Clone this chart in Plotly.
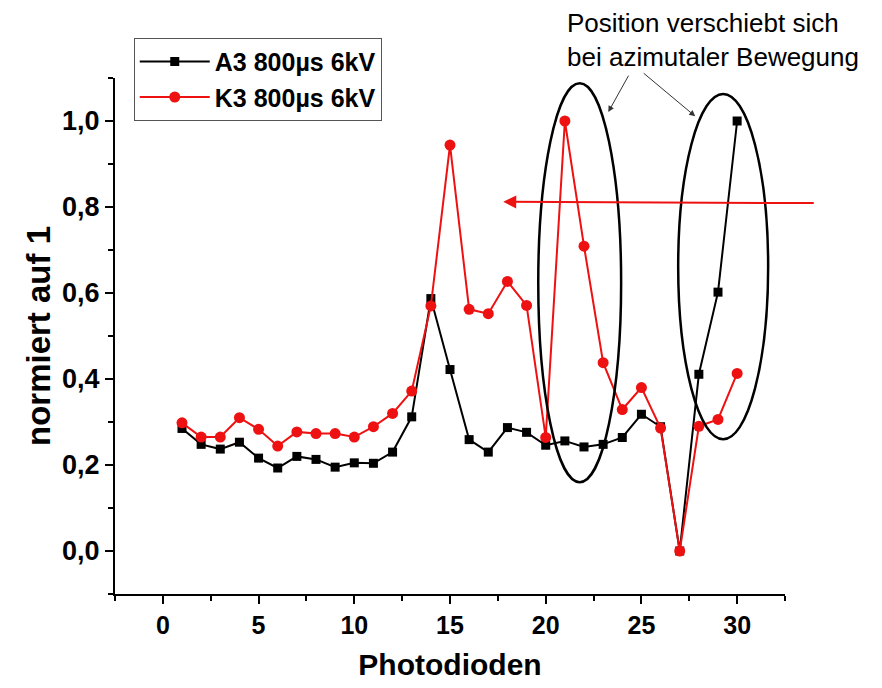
import plotly.graph_objects as go

# Photodiode index and normalised signal of the two measurements
photodiode = list(range(1, 31))
a3_values = [0.285, 0.248, 0.237, 0.253, 0.216, 0.193, 0.220, 0.213, 0.195, 0.205,
             0.204, 0.230, 0.312, 0.587, 0.422, 0.259, 0.230, 0.287, 0.276, 0.246,
             0.256, 0.242, 0.248, 0.264, 0.318, 0.289, 0.0, 0.411, 0.602, 1.0]
k3_values = [0.298, 0.265, 0.265, 0.310, 0.283, 0.244, 0.277, 0.273, 0.273, 0.265,
             0.289, 0.320, 0.372, 0.570, 0.944, 0.562, 0.552, 0.627, 0.571, 0.264,
             1.0, 0.709, 0.438, 0.329, 0.380, 0.286, 0.0, 0.290, 0.306, 0.413]
series_names = ["A3 800\u00b5s 6kV", "K3 800\u00b5s 6kV"]
x_ticks = [0, 5, 10, 15, 20, 25, 30]
y_ticks = [0.0, 0.2, 0.4, 0.6, 0.8, 1.0]

FONT = "Liberation Sans, Arial, sans-serif"

fig = go.Figure()
fig.add_trace(go.Scatter(
    x=photodiode, y=a3_values, name=series_names[0], mode="lines+markers",
    line=dict(color="black", width=2),
    marker=dict(symbol="square", size=9, color="black"),
    cliponaxis=False,
))
fig.add_trace(go.Scatter(
    x=photodiode, y=k3_values, name=series_names[1], mode="lines+markers",
    line=dict(color="#ee1111", width=2),
    marker=dict(symbol="circle", size=11, color="#ee1111"),
    cliponaxis=False,
))

# Ellipses marking the shifting peak positions
fig.add_shape(type="circle", xref="x", yref="y", x0=19.61, x1=23.94, y0=0.160, y1=1.088,
              line=dict(color="black", width=2.5))
fig.add_shape(type="circle", xref="x", yref="y", x0=26.92, x1=31.62, y0=0.26, y1=1.063,
              line=dict(color="black", width=2.5))

# Long red arrow pointing left
fig.add_annotation(x=17.78, y=0.812, ax=34.08, ay=0.809, xref="x", yref="y",
                   axref="x", ayref="y", text="", showarrow=True,
                   arrowhead=2, arrowsize=1.3, arrowwidth=2, arrowcolor="#ee1111",
                   standoff=0, startstandoff=0)

# Explanatory note with pointer arrows
fig.add_annotation(x=0.672, y=1.0736, xref="paper", yref="paper", xanchor="left", yanchor="middle",
                   text="Position verschiebt sich<br>bei azimutaler Bewegung",
                   showarrow=False, align="left",
                   font=dict(family=FONT, size=26, color="black"))
fig.add_annotation(x=23.27, y=1.021, ax=24.37, ay=1.109, xref="x", yref="y",
                   axref="x", ayref="y", text="", showarrow=True,
                   arrowhead=2, arrowsize=1.2, arrowwidth=1, arrowcolor="#333333",
                   standoff=0, startstandoff=0)
fig.add_annotation(x=27.81, y=1.011, ax=25.04, ay=1.114, xref="x", yref="y",
                   axref="x", ayref="y", text="", showarrow=True,
                   arrowhead=2, arrowsize=1.2, arrowwidth=1, arrowcolor="#333333",
                   standoff=0, startstandoff=0)

fig.update_layout(
    width=882, height=688,
    margin=dict(l=115, r=97, t=78, b=94),
    paper_bgcolor="white", plot_bgcolor="white",
    separators=",.",
    font=dict(family=FONT, color="black"),
    showlegend=True,
    legend=dict(
        x=0.028, y=1.078, xanchor="left", yanchor="top",
        bgcolor="white", bordercolor="#555555", borderwidth=1,
        font=dict(family=FONT, size=25, color="black", weight="bold"),
        itemwidth=70, tracegroupgap=0,
    ),
    xaxis=dict(
        range=[-2.5, 32.5], tickvals=x_ticks, showgrid=False, zeroline=False,
        showline=True, linecolor="black", linewidth=2,
        ticks="outside", ticklen=8, tickwidth=2, tickcolor="black",
        tickfont=dict(family=FONT, size=25, color="black", weight="bold"),
        minor=dict(dtick=2.5, tick0=0, ticks="outside", ticklen=5, tickwidth=2, tickcolor="black"),
        title=dict(text="Photodioden", standoff=16,
                   font=dict(family=FONT, size=30, color="black", weight="bold")),
    ),
    yaxis=dict(
        range=[-0.1, 1.1], tickvals=y_ticks, tickformat=".1f", showgrid=False, zeroline=False,
        showline=True, linecolor="black", linewidth=2,
        ticks="outside", ticklen=8, tickwidth=2, tickcolor="black",
        tickfont=dict(family=FONT, size=27, color="black", weight="bold"),
        minor=dict(dtick=0.1, tick0=0, ticks="outside", ticklen=5, tickwidth=2, tickcolor="black"),
        title=dict(text="normiert auf 1", standoff=2,
                   font=dict(family=FONT, size=33, color="black", weight="bold")),
    ),
)

fig.write_html("out.html")
